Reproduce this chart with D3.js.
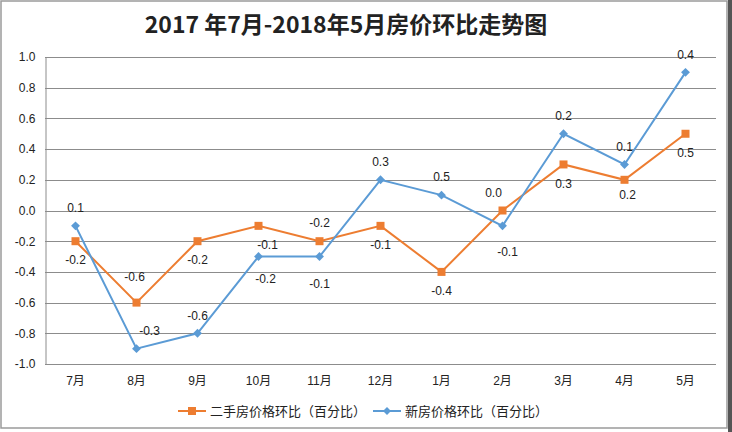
<!DOCTYPE html>
<html><head><meta charset="utf-8">
<script src="https://cdn.jsdelivr.net/npm/d3@7"></script>
<style>
html,body{margin:0;padding:0;background:#fff;}
svg{display:block;}
text{font-family:"Liberation Sans","Noto Sans CJK SC",sans-serif;fill:#222;}
</style></head>
<body><svg id="c" width="732" height="432"></svg>
<script>
const title = "2017 年7月-2018年5月房价环比走势图";
const categories = ["7月","8月","9月","10月","11月","12月","1月","2月","3月","4月","5月"];
const seriesNames = ["二手房价格环比（百分比）","新房价格环比（百分比）"];
const secondHand = [-0.2,-0.6,-0.2,-0.1,-0.2,-0.1,-0.4,0.0,0.3,0.2,0.5];
const newHouse   = [-0.1,-0.9,-0.8,-0.3,-0.3,0.2,0.1,-0.1,0.5,0.3,0.9];
const secondHandLabels = ["-0.2","-0.6","-0.2","-0.1","-0.2","-0.1","-0.4","0.0","0.3","0.2","0.5"];
const newHouseLabels   = ["0.1","-0.3","-0.6","-0.2","-0.1","0.3","0.5","-0.1","0.2","0.1","0.4"];
const yTicks = [-1.0,-0.8,-0.6,-0.4,-0.2,0.0,0.2,0.4,0.6,0.8,1.0];

// label placement (t = above, b = below), with small nudges
const shPlace = ["b","t","b","b","t","b","b","t","b","b","b"];
const nhPlace = ["t","t","t","b","b","t","t","b","t","t","t"];
const shNudge = {1:[-2,-8],7:[-9,0],3:[9,0],9:[3,-4]};
const nhNudge = {1:[13,0],3:[7,3],4:[0,8],7:[5,7]};

const colors = ["#ED7D31","#5B9BD5"];
const svg = d3.select("#c");
const W = 732, H = 432;
const m = {left:45, right:716, top:57, bottom:364};

// outer frame
svg.append("rect").attr("x",1).attr("y",1).attr("width",726).attr("height",427)
  .attr("fill","#fff").attr("stroke","#9a9a9a").attr("stroke-width",1.5);
svg.append("rect").attr("x",728).attr("y",0).attr("width",4).attr("height",H).attr("fill","#555");

const x = d3.scaleBand().domain(categories).range([m.left,m.right]);
const y = d3.scaleLinear().domain([-1,1]).range([m.bottom,m.top]);
const cx = d => x(d) + x.bandwidth()/2;

// gridlines
svg.append("g").selectAll("line").data(yTicks).join("line")
  .attr("x1",m.left).attr("x2",m.right)
  .attr("y1",d=>Math.round(y(d))+0.5).attr("y2",d=>Math.round(y(d))+0.5)
  .attr("stroke","#8c8c8c").attr("stroke-width",1);

// y axis
const ya = svg.append("g").attr("transform",`translate(${m.left+0.5},0)`)
  .call(d3.axisLeft(y).tickValues(yTicks).tickFormat(d=>(Math.abs(d)<1e-9?0:d).toFixed(1)).tickSize(0).tickPadding(10));
ya.select(".domain").attr("stroke","#8c8c8c");
ya.selectAll("text").attr("font-size",12).style("font-family","'Liberation Sans',sans-serif").attr("fill","#222");

// x axis
const xa = svg.append("g").attr("transform",`translate(0,${m.bottom})`)
  .call(d3.axisBottom(x).tickSize(0).tickPadding(12));
xa.select(".domain").remove();
xa.selectAll("text").attr("font-size",12).attr("fill","#222");

// title
svg.append("text").attr("x",346).attr("y",33).attr("text-anchor","middle")
  .attr("font-size",23).attr("font-weight","bold")
  .style("font-family","'Noto Sans CJK SC',sans-serif").attr("fill","#111").text(title);

const line = d3.line().x((d,i)=>cx(categories[i])).y(d=>y(d));

function drawSeries(vals, color, marker){
  svg.append("path").datum(vals).attr("d",line).attr("fill","none")
    .attr("stroke",color).attr("stroke-width",2);
  const g = svg.append("g");
  vals.forEach((v,i)=>{
    const px = cx(categories[i]), py = y(v);
    if(marker==="square"){
      g.append("rect").attr("x",px-4).attr("y",py-4).attr("width",8).attr("height",8)
        .attr("fill",color);
    } else {
      g.append("path").attr("d",d3.symbol(d3.symbolDiamond2,50)())
        .attr("transform",`translate(${px},${py})`).attr("fill",color);
    }
  });
}
drawSeries(secondHand, colors[0], "square");
drawSeries(newHouse, colors[1], "diamond");

function drawLabels(vals, labels, place, nudge){
  vals.forEach((v,i)=>{
    const n = nudge[i] || [0,0];
    const px = cx(categories[i]) + n[0];
    const py = y(v) + (place[i]==="t" ? -18 : 19) + n[1];
    svg.append("text").attr("x",px).attr("y",py).attr("dy","0.35em")
      .attr("text-anchor","middle").attr("font-size",12).attr("fill","#222").text(labels[i]);
  });
}
drawLabels(secondHand, secondHandLabels, shPlace, shNudge);
drawLabels(newHouse, newHouseLabels, nhPlace, nhNudge);

// legend
const leg = [{x:178, name:seriesNames[0], c:colors[0], m:"square"},
             {x:373, name:seriesNames[1], c:colors[1], m:"diamond"}];
const ly = 411;
leg.forEach(l=>{
  svg.append("line").attr("x1",l.x).attr("x2",l.x+28).attr("y1",ly).attr("y2",ly)
    .attr("stroke",l.c).attr("stroke-width",2);
  if(l.m==="square"){
    svg.append("rect").attr("x",l.x+10).attr("y",ly-4).attr("width",8).attr("height",8).attr("fill",l.c);
  } else {
    svg.append("path").attr("d",d3.symbol(d3.symbolDiamond2,40)())
      .attr("transform",`translate(${l.x+14},${ly})`).attr("fill",l.c);
  }
  svg.append("text").attr("x",l.x+32).attr("y",ly).attr("dy","0.35em")
    .attr("font-size",13).style("font-family","'Noto Sans CJK SC',sans-serif")
    .attr("fill","#222").text(l.name);
});
</script></body></html>
